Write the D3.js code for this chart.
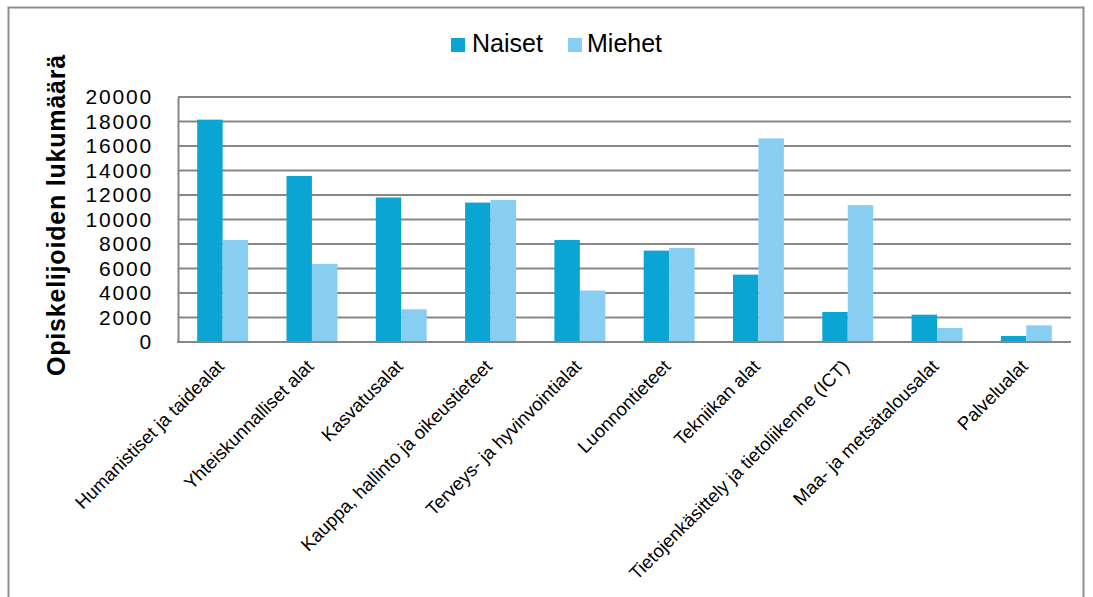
<!DOCTYPE html>
<html>
<head>
<meta charset="utf-8">
<script src="https://cdn.jsdelivr.net/npm/d3@7"></script>
<style>
  html, body { margin: 0; padding: 0; background: #fff; }
  svg { display: block; font-family: "Liberation Sans", Arial, sans-serif; }
</style>
</head>
<body>
<svg id="chart" width="1093" height="597"></svg>
<script>
const categories = [
  "Humanistiset ja taidealat",
  "Yhteiskunnalliset alat",
  "Kasvatusalat",
  "Kauppa, hallinto ja oikeustieteet",
  "Terveys- ja hyvinvointialat",
  "Luonnontieteet",
  "Tekniikan alat",
  "Tietojenkäsittely ja tietoliikenne (ICT)",
  "Maa- ja metsätalousalat",
  "Palvelualat"
];
const seriesNames = ["Naiset", "Miehet"];
const naiset = [18150, 13550, 11800, 11380, 8330, 7460, 5500, 2450, 2230, 490];
const miehet = [8330, 6380, 2670, 11600, 4200, 7680, 16620, 11170, 1150, 1360];
const yTicks = [0, 2000, 4000, 6000, 8000, 10000, 12000, 14000, 16000, 18000, 20000];
const yTitle = "Opiskelijoiden lukumäärä";
const colors = ["#0ba5d4", "#87cef2"];

const svg = d3.select("#chart");

// outer chart border
svg.append("rect")
  .attr("x", 8.5).attr("y", 7.5)
  .attr("width", 1075).attr("height", 620)
  .attr("fill", "none").attr("stroke", "#8f8f8f").attr("stroke-width", 2);

const plot = { left: 178, right: 1071, top: 97, bottom: 342 };

const y = d3.scaleLinear().domain([0, 20000]).range([plot.bottom, plot.top]);
const x0 = d3.scaleBand().domain(categories).range([plot.left, plot.right])
  .paddingInner(0.43).paddingOuter(0.215);
const x1 = d3.scaleBand().domain(seriesNames).range([0, x0.bandwidth()]);

// gridlines
svg.append("g").selectAll("line").data(yTicks).join("line")
  .attr("x1", plot.left).attr("x2", plot.right)
  .attr("y1", d => y(d)).attr("y2", d => y(d))
  .attr("stroke", "#878787").attr("stroke-width", 2);

// y axis
const yAxis = d3.axisLeft(y).tickValues(yTicks).tickSize(0).tickPadding(25).tickFormat(d3.format("d"));
const gy = svg.append("g").attr("transform", `translate(${plot.left},0)`).call(yAxis);
gy.select(".domain").attr("stroke", "#878787").attr("stroke-width", 2);
gy.selectAll("text").attr("font-size", 21).attr("letter-spacing", 1.8).attr("fill", "#000")
  .attr("font-family", "'Liberation Sans', Arial, sans-serif");

// bars
const data = categories.map((c, i) => ({ cat: c, vals: [naiset[i], miehet[i]] }));
const groups = svg.append("g").selectAll("g").data(data).join("g")
  .attr("transform", d => `translate(${x0(d.cat)},0)`);
groups.selectAll("rect").data(d => d.vals.map((v, j) => ({ s: seriesNames[j], v, j })))
  .join("rect")
  .attr("x", d => x1(d.s))
  .attr("width", x1.bandwidth())
  .attr("y", d => y(d.v))
  .attr("height", d => y(0) - y(d.v))
  .attr("fill", d => colors[d.j]);

// redraw bottom axis line on top
svg.append("line")
  .attr("x1", plot.left - 1).attr("x2", plot.right)
  .attr("y1", y(0)).attr("y2", y(0))
  .attr("stroke", "#878787").attr("stroke-width", 2);

// x axis labels
const xAxis = d3.axisBottom(x0).tickSize(0).tickPadding(0);
const gx = svg.append("g").attr("transform", `translate(0,${plot.bottom})`).call(xAxis);
gx.select(".domain").remove();
gx.selectAll(".tick text")
  .attr("font-size", 18.5).attr("fill", "#000")
  .attr("font-family", "'Liberation Sans', Arial, sans-serif")
  .attr("text-anchor", "end")
  .attr("x", 0).attr("y", 0).attr("dy", "0.35em")
  .attr("transform", "translate(-2,21) rotate(-45)");

// y title
svg.append("text")
  .attr("transform", "translate(65,215) rotate(-90)")
  .attr("text-anchor", "middle")
  .attr("font-size", 25).attr("font-weight", "bold")
  .attr("letter-spacing", 0.8)
  .text(yTitle);

// legend
const legend = svg.append("g");
const legendPos = [{ sx: 451, tx: 472 }, { sx: 568, tx: 587 }];
seriesNames.forEach((s, i) => {
  legend.append("rect").attr("x", legendPos[i].sx).attr("y", 38)
    .attr("width", 14).attr("height", 14).attr("fill", colors[i]);
  legend.append("text").attr("x", legendPos[i].tx).attr("y", 52)
    .attr("font-size", 25).attr("fill", "#000").text(s);
});
</script>
</body>
</html>
